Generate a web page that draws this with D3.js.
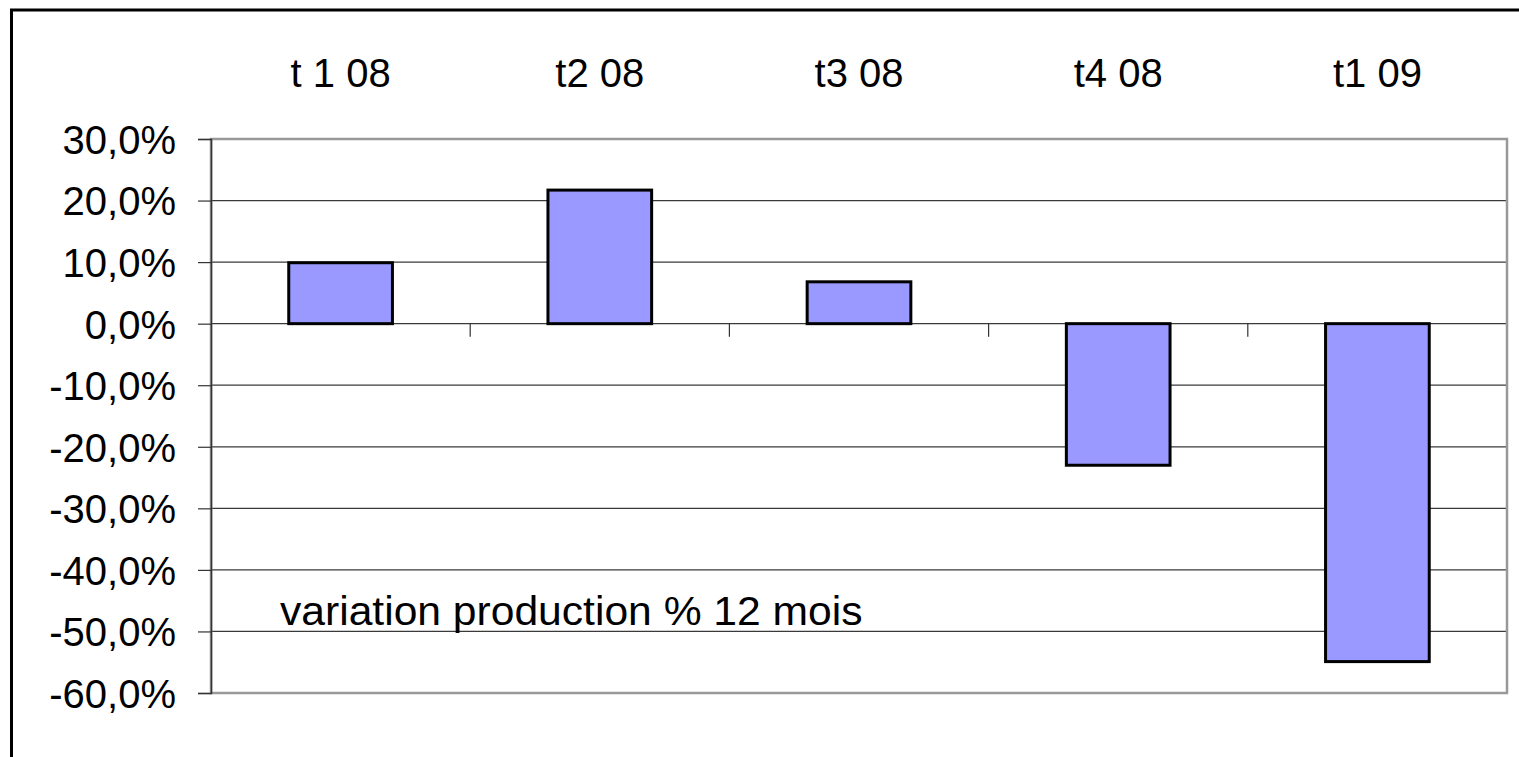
<!DOCTYPE html>
<html>
<head>
<meta charset="utf-8">
<script src="https://cdn.jsdelivr.net/npm/d3@7"></script>
<style>
  html, body { margin: 0; padding: 0; background: #fff; }
  svg { display: block; }
  text { font-family: "Liberation Sans", Arial, Helvetica, sans-serif; fill: #000; }
</style>
</head>
<body>
<svg id="chart" width="1519" height="757"></svg>
<script>
// Quarterly year-on-year change in production (%)
const quarters = ["t 1 08", "t2 08", "t3 08", "t4 08", "t1 09"];
const variation = [9.9, 21.7, 6.8, -23.0, -54.9];
const yTicks = [30, 20, 10, 0, -10, -20, -30, -40, -50, -60];
const seriesLabel = "variation production % 12 mois";

const W = 1519, H = 757;
const plot = { left: 211, right: 1507, top: 139, bottom: 693 };
const fontSize = 40;
const labelStretch = 1.065;

const svg = d3.select("#chart");

// outer chart frame (right and bottom edges fall outside the page)
svg.append("rect")
  .attr("x", 11.5).attr("y", 10)
  .attr("width", W + 20).attr("height", H + 20)
  .attr("fill", "#fff").attr("stroke", "#000").attr("stroke-width", 3);

const x = d3.scaleBand()
  .domain(quarters)
  .range([plot.left, plot.right])
  .paddingInner(0.6)
  .paddingOuter(0.3);

const xBand = d3.scaleBand()
  .domain(quarters)
  .range([plot.left, plot.right]);

const y = d3.scaleLinear()
  .domain([-60, 30])
  .range([plot.bottom, plot.top]);

const fmt = v => d3.format(".1f")(v).replace(".", ",").replace("−", "-") + "%";

// horizontal gridlines
svg.append("g")
  .selectAll("line")
  .data(yTicks)
  .join("line")
  .attr("x1", plot.left).attr("x2", plot.right)
  .attr("y1", d => y(d)).attr("y2", d => y(d))
  .attr("stroke", "#3a3a3a").attr("stroke-width", 1.2);

// plot area frame
svg.append("rect")
  .attr("x", plot.left).attr("y", plot.top)
  .attr("width", plot.right - plot.left).attr("height", plot.bottom - plot.top)
  .attr("fill", "none").attr("stroke", "#999").attr("stroke-width", 2.5);

// y axis
const yAxis = d3.axisLeft(y)
  .tickValues(yTicks)
  .tickSize(13)
  .tickPadding(22)
  .tickFormat(fmt);

const gy = svg.append("g")
  .attr("transform", `translate(${plot.left},0)`)
  .call(yAxis);
gy.select(".domain").attr("stroke", "#333").attr("stroke-width", 1.5);
gy.selectAll(".tick line").attr("stroke", "#333").attr("stroke-width", 1.2);
gy.selectAll(".tick text")
  .attr("font-size", fontSize)
  .attr("font-family", "Liberation Sans, Arial, sans-serif")
  .attr("fill", "#000")
  .attr("dy", "0.36em");

// category tick marks on the zero line
svg.append("g")
  .selectAll("line")
  .data(quarters.slice(1))
  .join("line")
  .attr("x1", d => xBand(d)).attr("x2", d => xBand(d))
  .attr("y1", y(0)).attr("y2", y(0) + 13)
  .attr("stroke", "#333").attr("stroke-width", 1.2);

// category labels along the top
svg.append("g")
  .selectAll("text")
  .data(quarters)
  .join("text")
  .attr("x", d => xBand(d) + xBand.bandwidth() / 2)
  .attr("y", 87)
  .attr("text-anchor", "middle")
  .attr("font-size", fontSize)
  .text(d => d);

// bars
svg.append("g")
  .selectAll("rect")
  .data(quarters.map((q, i) => ({ q, v: variation[i] })))
  .join("rect")
  .attr("x", d => x(d.q))
  .attr("width", x.bandwidth())
  .attr("y", d => y(Math.max(0, d.v)))
  .attr("height", d => Math.abs(y(d.v) - y(0)))
  .attr("fill", "#9999ff")
  .attr("stroke", "#000")
  .attr("stroke-width", 3);

// series label, slightly widened lettering
const legend = svg.append("text")
  .attr("x", 280)
  .attr("y", 625)
  .attr("font-size", fontSize)
  .text(seriesLabel);
legend
  .attr("textLength", legend.node().getComputedTextLength() * labelStretch)
  .attr("lengthAdjust", "spacingAndGlyphs");
</script>
</body>
</html>
